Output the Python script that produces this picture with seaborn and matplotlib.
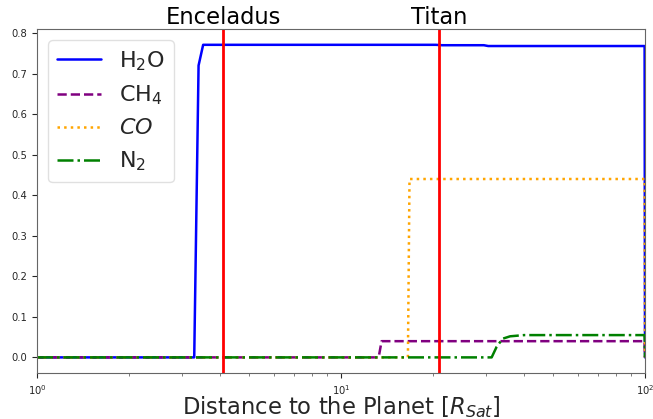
import matplotlib
matplotlib.use("Agg")
import matplotlib.pyplot as plt
import matplotlib.transforms as mtransforms
import seaborn as sns
import numpy as np

# ---- data ----
x_h2o = [1, 3.29, 3.40, 3.52, 20.5, 21.5, 29.5, 30.5, 99.7, 100]
y_h2o = [0, 0, 0.72, 0.771, 0.771, 0.770, 0.770, 0.768, 0.768, 0]

x_ch4 = [1, 13.3, 13.6, 99.7, 100]
y_ch4 = [0, 0, 0.040, 0.040, 0]

x_co = [1, 16.6, 16.8, 99.7, 100]
y_co = [0, 0, 0.44, 0.44, 0]

x_n2 = [1, 31.3, 32.5, 34.0, 36.0, 40.0, 99.7, 100]
y_n2 = [0, 0, 0.026, 0.046, 0.052, 0.055, 0.055, 0]

moons = ["Enceladus", "Titan"]
moon_x = [4.1, 21.0]

labels = ["H$_2$O", "CH$_4$", "$CO$", "N$_2$"]
colors = ["blue", "purple", "orange", "green"]
styles = ["-", "--", ":", "-."]

sns.set_style("ticks")
plt.rcParams["font.family"] = ["DejaVu Sans"]
plt.rcParams["axes.edgecolor"] = "0.4"

fig = plt.figure(figsize=(6.53, 4.19), dpi=100)
ax = fig.add_axes([37 / 653, 46 / 419, 608 / 653, 344 / 419])

series = [(x_h2o, y_h2o), (x_ch4, y_ch4), (x_co, y_co), (x_n2, y_n2)]
for (xs, ys), lab, c, ls in zip(series, labels, colors, styles):
    sns.lineplot(x=xs, y=ys, ax=ax, color=c, linestyle=ls, linewidth=1.8,
                 label=lab, estimator=None)

trans = mtransforms.blended_transform_factory(ax.transData, ax.transAxes)
for name, mx in zip(moons, moon_x):
    ax.axvline(mx, color="red", linewidth=2.0)
    ax.text(mx, 1.0, name, transform=trans, ha="center", va="bottom",
            fontsize=16.3, color="black")

ax.set_xscale("log")
ax.set_xlim(1, 100)
ax.set_ylim(-0.0385, 0.81)
ax.set_xlabel("Distance to the Planet [$R_{Sat}$]", fontsize=16.3, labelpad=-2)
ax.set_ylabel("")
ax.tick_params(axis="both", which="major", labelsize=7.2, colors="0.15")
ax.tick_params(axis="x", which="minor", colors="0.4")
for sp in ax.spines.values():
    sp.set_visible(True)
    sp.set_color("0.4")

leg = ax.legend(loc="upper left", fontsize=16, frameon=True)
leg.get_frame().set_edgecolor("0.85")

fig.savefig("out.png", dpi=100)
